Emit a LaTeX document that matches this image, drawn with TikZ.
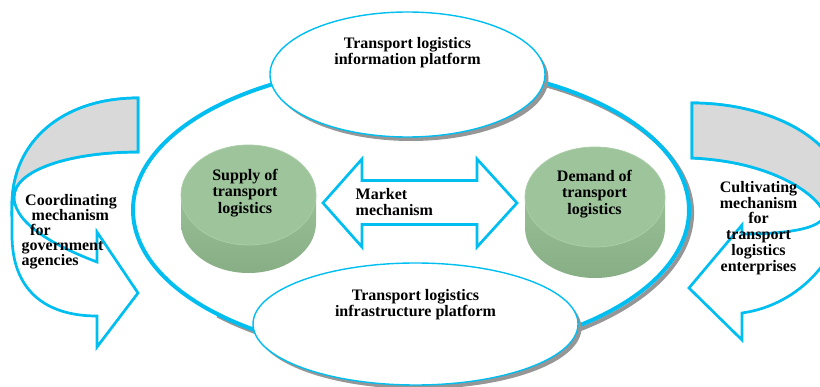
\documentclass[tikz,border=0pt]{standalone}
\usepackage{fontspec}
\setmainfont{Liberation Serif}
\definecolor{skyline}{RGB}{0,190,240}
\definecolor{shadowgray}{RGB}{150,150,150}
\definecolor{ribbongray}{RGB}{217,217,217}
\definecolor{drumface}{RGB}{157,196,155}
\definecolor{drumrim}{RGB}{170,205,168}
\definecolor{drumsidetop}{RGB}{152,191,150}
\definecolor{drumsidebot}{RGB}{136,174,133}
\begin{document}
\begin{tikzpicture}[x=1pt,y=-1pt,
  label/.style={inner sep=0pt, font=\bfseries\fontsize{16}{16.5}\selectfont, text=black},
  sidelabel/.style={inner sep=0pt, font=\bfseries\fontsize{16}{15.8}\selectfont, text=black},
  ribbon/.style={draw=skyline, line width=2.7pt, line join=miter},
  platform/.style={fill=white, draw=skyline, line width=1.4pt},
]
\useasboundingbox (0,0) rectangle (820,387);
\clip (0,0) rectangle (820,387);

% left curved arrow (government agencies)
\filldraw[ribbon, fill=white] (138,152) -- (138,98)
  .. controls (62,98) and (12,142) .. (12,205) -- (12,235)
  .. controls (12,290) and (45,316) .. (97,316)
  -- (97,347) -- (138,293) -- (97,232) -- (97,262)
  .. controls (60,248) and (14,225) .. (14,197)
  .. controls (14,170) and (70,152) .. (138,152) -- cycle;
\filldraw[ribbon, fill=ribbongray] (138,152) -- (138,98)
  .. controls (62,98) and (12,142) .. (12,205) -- (14,197)
  .. controls (14,170) and (70,152) .. (138,152) -- cycle;

% right curved arrow (logistics enterprises)
\filldraw[ribbon, fill=white] (692,158) -- (692,103)
  .. controls (770,103) and (845,140) .. (845,200)
  .. controls (845,255) and (800,305) .. (742,313)
  -- (742,340) -- (689,288) -- (742,225) -- (742,234)
  .. controls (780,234) and (824,230) .. (824,214)
  .. controls (822,200) and (780,162) .. (692,158) -- cycle;
\filldraw[ribbon, fill=ribbongray] (692,158) -- (692,103)
  .. controls (770,103) and (845,140) .. (845,200) -- (824,214)
  .. controls (822,200) and (780,162) .. (692,158) -- cycle;

% outer ring, with its shadow on the lower right
\draw[shadowgray, line width=4pt] (414,213) ++(-70:278 and 145)
  arc[start angle=-70, end angle=135, x radius=278, y radius=145];
\draw[skyline, line width=4pt] (411,210) ellipse [x radius=278, y radius=145];

% information platform
\fill[shadowgray] (411,78.5) ellipse [x radius=137.5, y radius=62.5];
\filldraw[platform] (407.5,74.5) ellipse [x radius=137.5, y radius=62.5];

% infrastructure platform
\fill[shadowgray] (419,328) ellipse [x radius=162.5, y radius=61];
\filldraw[platform] (415.5,324) ellipse [x radius=162.5, y radius=61];

% supply drum
\shade[top color=drumsidetop, bottom color=drumsidebot] (181,195) -- (181,223)
  arc[start angle=180, end angle=0, x radius=67.5, y radius=50] -- (316,195) -- cycle;
\fill[drumface] (248.5,195) ellipse [x radius=67.5, y radius=50];
\draw[drumrim, line width=0.8pt] (248.5,195) ellipse [x radius=67.5, y radius=50];

% demand drum
\shade[top color=drumsidetop, bottom color=drumsidebot] (525,197) -- (525,228)
  arc[start angle=180, end angle=0, x radius=70, y radius=50] -- (665,197) -- cycle;
\fill[drumface] (595,197) ellipse [x radius=70, y radius=50];
\draw[drumrim, line width=0.8pt] (595,197) ellipse [x radius=70, y radius=50];

% market double arrow
\filldraw[fill=white, draw=skyline, line width=2.7pt, line join=miter]
  (323,203) -- (362,159) -- (362,180.5) -- (477,180.5) -- (477,159)
  -- (517,203) -- (477,247) -- (477,224.5) -- (362,224.5) -- (362,247) -- cycle;

% labels
\node[label, anchor=north, align=center] (info) at (407.5,37)
  {Transport logistics\\information platform};
\node[label, anchor=north, align=center] (infra) at (415.5,289)
  {Transport logistics\\infrastructure platform};
\node[label, anchor=north, align=center] (supply) at (245,169)
  {Supply of\\transport\\logistics};
\node[label, anchor=north, align=center] (demand) at (594.5,170)
  {Demand of\\transport\\logistics};
\node[label, anchor=north west, align=left, font=\bfseries\fontsize{16}{16}\selectfont] (market) at (355.5,188.5)
  {Market\\mechanism};
\node[sidelabel, anchor=north west, align=left, font=\bfseries\fontsize{16}{15}\selectfont] (coord) at (21.5,194)
  {\hspace*{3.5pt}Coordinating\\\hspace*{10pt}mechanism\\\hspace*{8.5pt}for\\government\\agencies};
\node[sidelabel, anchor=north, align=center] (cultiv) at (758.5,181)
  {Cultivating\\mechanism\\for\\transport\\logistics\\enterprises};
\end{tikzpicture}
\end{document}
